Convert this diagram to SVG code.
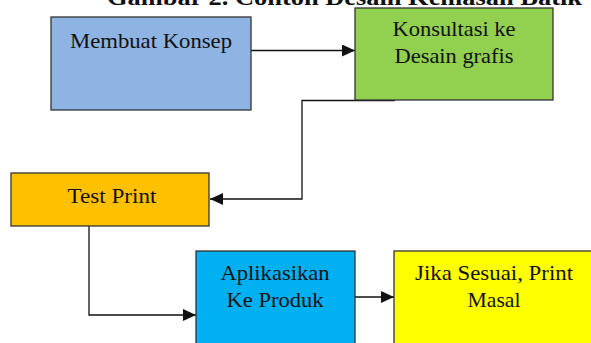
<svg xmlns="http://www.w3.org/2000/svg" width="591" height="343" viewBox="0 0 591 343">
<style>
.box{stroke:#333;stroke-width:1.3}
.t{font-family:"Liberation Serif","Times New Roman",serif;font-size:21px;fill:#111;text-anchor:middle}
.title{font-family:"Liberation Serif","Times New Roman",serif;font-size:24px;font-weight:bold;fill:#111}
.c{fill:none;stroke:#111;stroke-width:1.3}
</style>
<defs>
<marker id="ah" markerUnits="userSpaceOnUse" markerWidth="14" markerHeight="13" refX="13" refY="6" orient="auto">
<path d="M0,0 L13,6 L0,12 z" fill="#111"/>
</marker>
</defs>
<rect width="591" height="343" fill="#fff"/>
<text class="title" x="107" y="5" textLength="475" lengthAdjust="spacingAndGlyphs">Gambar 2. Contoh Desain Kemasan Batik</text>
<g id="connectors">
<path class="c" d="M251,50.5 H355" marker-end="url(#ah)"/>
<path class="c" d="M395,100.5 H302 V199 H210" marker-end="url(#ah)"/>
<path class="c" d="M89,226 V315 H196" marker-end="url(#ah)"/>
<path class="c" d="M355,297 H394" marker-end="url(#ah)"/>
</g>
<g id="n1">
<rect class="box" x="51" y="17" width="200" height="93" fill="#8EB4E3"/>
<text class="t" x="151" y="48" textLength="162" lengthAdjust="spacingAndGlyphs">Membuat Konsep</text>
</g>
<g id="n2">
<rect class="box" x="355" y="8" width="198" height="92" fill="#92D050"/>
<text class="t" x="454" y="36" textLength="123" lengthAdjust="spacingAndGlyphs">Konsultasi ke</text>
<text class="t" x="454" y="63" textLength="119" lengthAdjust="spacingAndGlyphs">Desain grafis</text>
</g>
<g id="n3">
<rect class="box" x="11" y="173" width="198" height="53" fill="#FFC000"/>
<text class="t" x="112" y="203" textLength="89" lengthAdjust="spacingAndGlyphs">Test Print</text>
</g>
<g id="n4">
<rect class="box" x="196" y="251" width="159" height="100" fill="#00B0F0"/>
<text class="t" x="275" y="280" textLength="109" lengthAdjust="spacingAndGlyphs">Aplikasikan</text>
<text class="t" x="275" y="307" textLength="97" lengthAdjust="spacingAndGlyphs">Ke Produk</text>
</g>
<g id="n5">
<rect class="box" x="394" y="251" width="210" height="100" fill="#FFFF00"/>
<text class="t" x="494" y="280" textLength="158" lengthAdjust="spacingAndGlyphs">Jika Sesuai, Print</text>
<text class="t" x="494" y="307" textLength="53" lengthAdjust="spacingAndGlyphs">Masal</text>
</g>
</svg>
